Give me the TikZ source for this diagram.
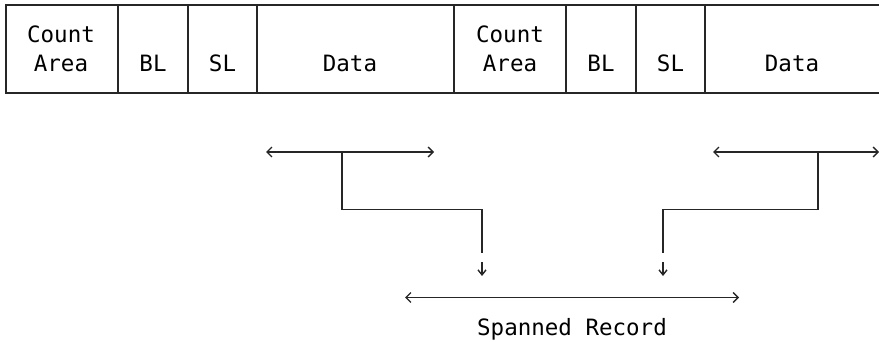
\documentclass[tikz,border=0pt]{standalone}
\usepackage{fontspec}
\setmonofont{DejaVu Sans Mono}
\usetikzlibrary{arrows.meta}
\begin{document}
\begin{tikzpicture}[x=1pt,y=-1pt,
  rule/.style={draw=black!85,line width=1.4pt},
  cell/.style={inner sep=0pt,font=\ttfamily\fontsize{22.5}{29}\selectfont,text=black},
  span/.style={draw=black!85,line width=1.3pt,{Straight Barb[length=5pt,width=10pt]}-{Straight Barb[length=5pt,width=10pt]}},
  feed/.style={draw=black!85,line width=1.3pt},
  tip/.style={draw=black!85,line width=1.4pt,-{Straight Barb[length=5pt,width=8pt]}}]
\useasboundingbox (0,0) rectangle (879,342);
% record layout: cell boundaries
\coordinate (x0) at (6,5);
\coordinate (x1) at (118,5);
\coordinate (x2) at (188,5);
\coordinate (x3) at (257,5);
\coordinate (x4) at (454,5);
\coordinate (x5) at (566,5);
\coordinate (x6) at (636,5);
\coordinate (x7) at (705,5);
\coordinate (xe) at (879,5);
% outline and dividers
\draw[rule] (xe) -- (x0) -- ++(0,88) -- ++(873,0);
\foreach \c in {x1,x2,x3,x4,x5,x6,x7}
  \draw[rule] (\c) -- ++(0,88);
% cell texts
\node[cell,anchor=base] (ca1a) at (61,43) {Count};
\node[cell,anchor=base] (ca1b) at (61,72) {Area};
\node[cell,anchor=base] (bl1) at (153,72) {BL};
\node[cell,anchor=base] (sl1) at (222.5,72) {SL};
\node[cell,anchor=base] (d1) at (350,72) {Data};
\node[cell,anchor=base] (ca2a) at (510,43) {Count};
\node[cell,anchor=base] (ca2b) at (510,72) {Area};
\node[cell,anchor=base] (bl2) at (601,72) {BL};
\node[cell,anchor=base] (sl2) at (670.5,72) {SL};
\node[cell,anchor=base] (d2) at (792,72) {Data};
% extent of the first data segment
\coordinate (s1l) at (266,152);
\coordinate (s1r) at (434,152);
\coordinate (s1m) at (342,152);
\draw[span] (s1l) -- (s1r);
\coordinate (f1) at (482,253);
\draw[feed] (s1m) |- (482,209.5) -- (f1);
\coordinate (t1s) at (482,262);
\coordinate (t1) at (482,276);
\draw[tip] (t1s) -- (t1);
% extent of the second data segment
\coordinate (s2l) at (713,152);
\coordinate (s2r) at (879,152);
\coordinate (s2m) at (818,152);
\draw[span] (s2l) -- (s2r);
\coordinate (f2) at (663,253);
\draw[feed] (s2m) |- (663,209.5) -- (f2);
\coordinate (t2s) at (663,262);
\coordinate (t2) at (663,276);
\draw[tip] (t2s) -- (t2);
% the combined record
\coordinate (rl) at (405,297.5);
\coordinate (rr) at (739,297.5);
\draw[span] (rl) -- (rr);
\node[cell,anchor=base] (rec) at (572,335) {Spanned Record};
\end{tikzpicture}
\end{document}
